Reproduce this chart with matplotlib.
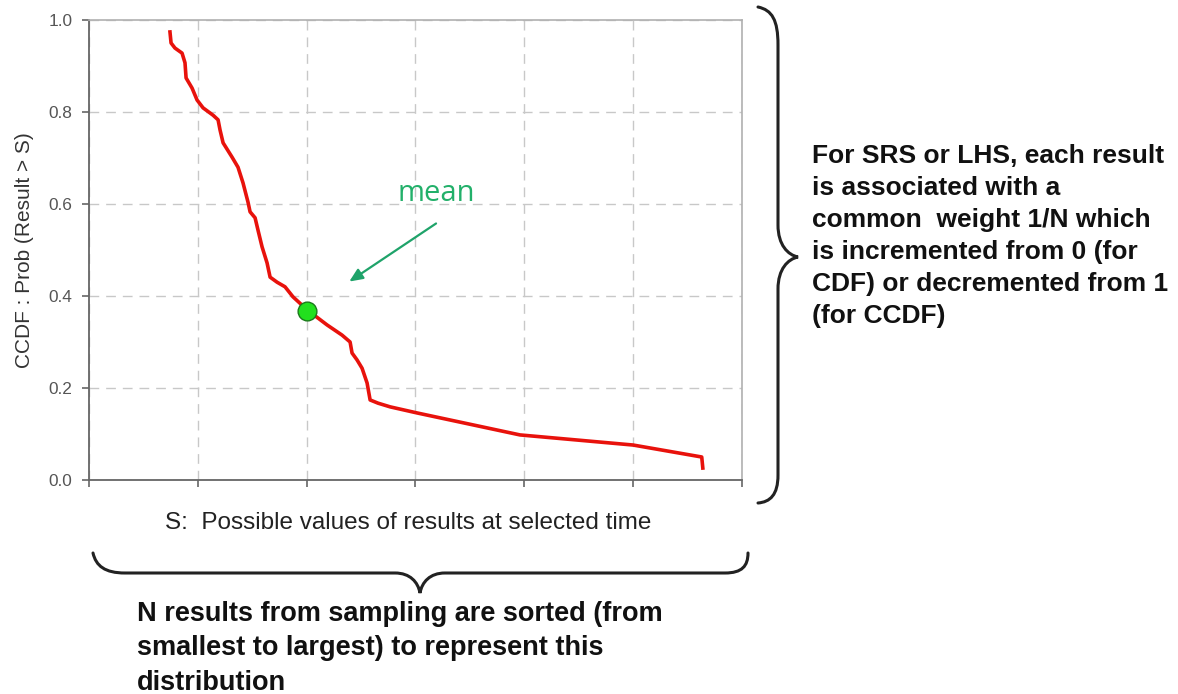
import numpy as np
import matplotlib
matplotlib.use("Agg")
import matplotlib.pyplot as plt
from matplotlib.path import Path
from matplotlib.patches import PathPatch

# CCDF curve (S in grid units, prob)
s_vals = [0.744, 0.754, 0.790, 0.855, 0.882, 0.892, 0.947, 0.993, 1.048, 1.140,
          1.186, 1.204, 1.232, 1.314, 1.369, 1.415, 1.461, 1.480, 1.526, 1.553,
          1.590, 1.636, 1.664, 1.728, 1.801, 1.875, 2.004, 2.188, 2.325, 2.399,
          2.417, 2.463, 2.509, 2.555, 2.583, 2.656, 2.767, 3.010, 3.960, 5.000,
          5.630, 5.640]
prob = [0.974, 0.950, 0.939, 0.928, 0.907, 0.874, 0.852, 0.826, 0.809, 0.793,
        0.783, 0.761, 0.733, 0.702, 0.680, 0.646, 0.604, 0.583, 0.570, 0.543,
        0.507, 0.472, 0.441, 0.430, 0.420, 0.398, 0.370, 0.337, 0.315, 0.300,
        0.276, 0.261, 0.243, 0.211, 0.174, 0.167, 0.159, 0.146, 0.098, 0.076,
        0.050, 0.026]
mean_s = 2.0
mean_p = 0.368
y_ticks = [0.0, 0.2, 0.4, 0.6, 0.8, 1.0]
x_ticks = [0, 1, 2, 3, 4, 5, 6]

W, H = 1178, 694
fig = plt.figure(figsize=(W / 100, H / 100), dpi=100)
fig.patch.set_facecolor("white")

ax = fig.add_axes([89 / W, 1 - 480 / H, (742 - 89) / W, (480 - 20) / H])
ax.set_xlim(0, 6)
ax.set_ylim(0, 1)
ax.set_xticks(x_ticks)
ax.set_xticklabels([])
ax.set_yticks(y_ticks)
ax.set_yticklabels([f"{v:.1f}" for v in y_ticks], family="Liberation Sans",
                   fontsize=12.4, color="#555555")
ax.grid(True, color="#c8c8c8", linestyle=(0, (7, 5)), linewidth=1)
ax.tick_params(direction="out", length=5, color="#666666", width=1.2, pad=7)
for side in ["left", "bottom"]:
    ax.spines[side].set_color("#666666")
    ax.spines[side].set_linewidth(1.3)
for side in ["top", "right"]:
    ax.spines[side].set_color("#b0b0b0")
    ax.spines[side].set_linewidth(1.2)

ax.plot(s_vals, prob, color="#e8120c", linewidth=2.6, solid_joinstyle="round", zorder=3)
ax.plot([mean_s], [mean_p], "o", markersize=13.5, markerfacecolor="#22e01e",
        markeredgecolor="#1b7a1b", markeredgewidth=1, zorder=4)

ax.annotate("", xy=(2.37, 0.428), xytext=(3.21, 0.561),
            arrowprops=dict(arrowstyle="-|>,head_length=0.8,head_width=0.35",
                            color="#1fa36a", lw=1.6))

ax.set_ylabel("CCDF : Prob (Result > S)", family="Liberation Sans", fontsize=15,
              color="#333333", labelpad=10)

# overlay in pixel coordinates for braces and notes
ov = fig.add_axes([0, 0, 1, 1])
ov.set_xlim(0, W)
ov.set_ylim(H, 0)
ov.axis("off")
ov.patch.set_alpha(0)

ov.text(436, 193, "mean", color="#22b06a", fontsize=21,
        family="Open Sans", ha="center", va="center")


def brace(pts):
    codes = [Path.MOVETO] + [Path.CURVE4] * (len(pts) - 1)
    ov.add_patch(PathPatch(Path(pts, codes), fill=False, lw=2.2, ec="#222222",
                           capstyle="round"))


# right brace
brace([(758, 7), (772, 10), (778, 20), (778, 45),
       (778, 120), (778, 160), (778, 225),
       (778, 245), (788, 255), (798, 257),
       (788, 259), (778, 269), (778, 289),
       (778, 360), (778, 400), (778, 475),
       (778, 495), (770, 502), (758, 503)])
# bottom brace
brace([(93, 553), (96, 566), (105, 573), (125, 573),
       (220, 573), (300, 573), (395, 573),
       (410, 573), (418, 582), (420, 593),
       (422, 582), (430, 573), (445, 573),
       (560, 573), (640, 573), (725, 573),
       (742, 573), (748, 566), (748, 553)])

ov.text(408, 523, "S:  Possible values of results at selected time",
        family="Liberation Sans", fontsize=17.5,
        color="#222222", ha="center", va="center")

right_note = ("For SRS or LHS, each result\nis associated with a\n"
              "common  weight 1/N which\nis incremented from 0 (for\n"
              "CDF) or decremented from 1\n(for CCDF)")
ov.text(812, 144, right_note, family="Liberation Sans", fontweight="bold",
        fontsize=19, color="#111111", ha="left", va="top", linespacing=1.42)

bottom_note = ("N results from sampling are sorted (from\n"
               "smallest to largest) to represent this\ndistribution")
ov.text(137, 601, bottom_note, family="Liberation Sans", fontweight="bold",
        fontsize=19.5, color="#111111", ha="left", va="top", linespacing=1.42)

fig.savefig("out.png", dpi=100)
